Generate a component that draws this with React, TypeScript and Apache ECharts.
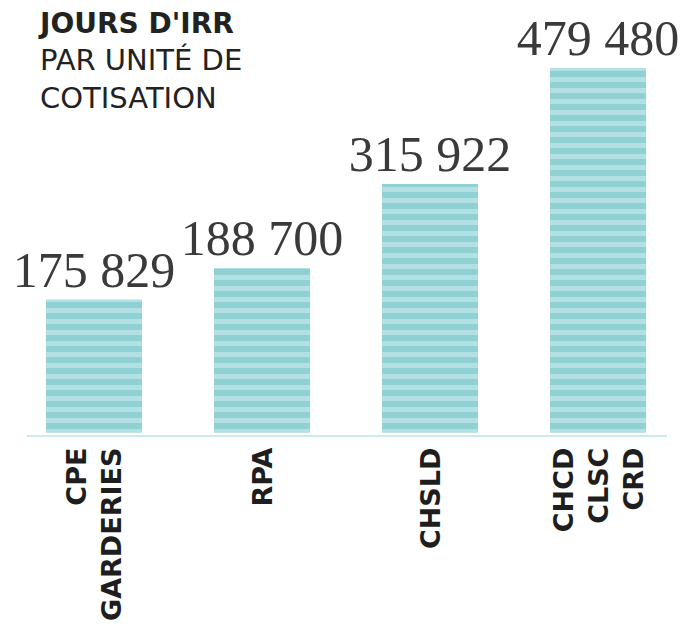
import React, { useEffect, useRef } from "react";
import * as echarts from "echarts";

const categories = ["CPE\nGARDERIES", "RPA", "CHSLD", "CHCD\nCLSC\nCRD"];
// Printed values above the bars
const printedValues = [175829, 188700, 315922, 479480];
// Bar heights as drawn in the picture (same units)
const barValues = [174600, 216300, 327000, 479480];
const titleLines = ["JOURS D'IRR", "PAR UNITÉ DE", "COTISATION"];

function fmt(v: number): string {
  const th = Math.floor(v / 1000);
  const rest = String(v % 1000).padStart(3, "0");
  return th > 0 ? `${th} ${rest}` : String(v);
}

export default function App() {
  const ref = useRef<HTMLDivElement>(null);
  useEffect(() => {
    if (!ref.current) return;
    const chart = echarts.init(ref.current, null, { renderer: "svg" });
    chart.setOption({
      animation: false,
      backgroundColor: "#ffffff",
      grid: { left: 10, right: 12, top: 68, bottom: 188 },
      xAxis: {
        type: "category",
        data: categories,
        axisLine: { show: false },
        axisTick: { show: false },
        axisLabel: {
          interval: 0,
          rotate: 90,
          margin: 15,
          fontFamily: "DejaVu Sans",
          fontWeight: "bold",
          fontSize: 27,
          lineHeight: 35,
          color: "#1e1e1e",
        },
      },
      yAxis: {
        type: "value",
        min: 0,
        max: 479480,
        show: false,
        splitLine: { show: false },
      },
      graphic: [
        {
          type: "line",
          z: 0,
          shape: { x1: 27, y1: 436, x2: 667, y2: 436 },
          style: { stroke: "#cdeaec", lineWidth: 2 },
        },
        {
          type: "text",
          left: 40,
          top: 9,
          style: {
            text: titleLines[0],
            fontFamily: "DejaVu Sans",
            fontWeight: "bold",
            fontSize: 28,
            fill: "#222222",
          },
        },
        {
          type: "text",
          left: 40,
          top: 45,
          style: {
            text: titleLines[1],
            fontFamily: "DejaVu Sans",
            fontSize: 29,
            fill: "#222222",
          },
        },
        {
          type: "text",
          left: 40,
          top: 83,
          style: {
            text: titleLines[2],
            fontFamily: "DejaVu Sans",
            fontSize: 29,
            fill: "#222222",
          },
        },
      ],
      series: [
        {
          type: "bar",
          data: barValues,
          barWidth: 96,
          itemStyle: {
            color: "#8fd0d3",
            decal: {
              symbol: "rect",
              symbolSize: 1,
              symbolKeepAspect: false,
              color: "#b3e1e3",
              dashArrayX: [100, 0],
              dashArrayY: [5, 6],
              rotation: 0,
            },
          },
          label: {
            show: true,
            position: "top",
            distance: 5,
            fontFamily: "Liberation Serif",
            fontSize: 50,
            color: "#3a3a3a",
            formatter: (p: any) => fmt(printedValues[p.dataIndex]),
          },
        },
      ],
    });
    return () => chart.dispose();
  }, []);
  return (
    <div
      ref={ref}
      style={{ position: "absolute", left: 0, top: 0, width: 694, height: 624 }}
    />
  );
}
